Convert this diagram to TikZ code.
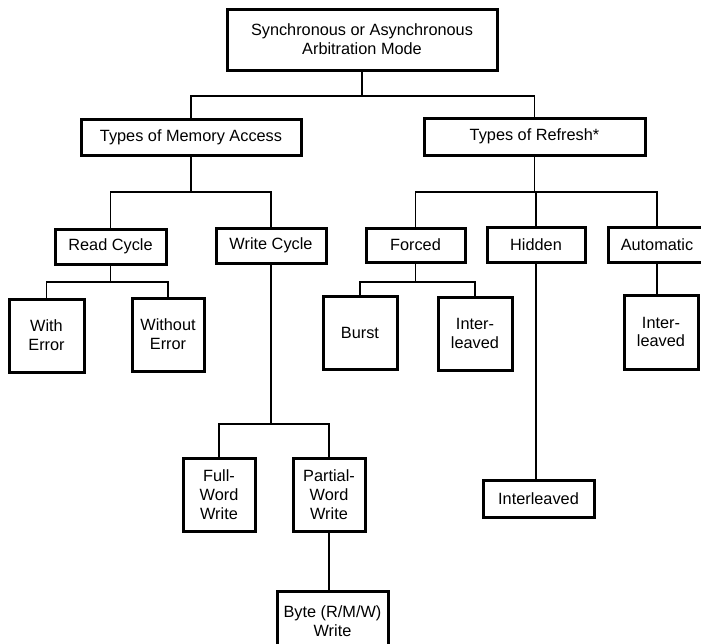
\documentclass[tikz,border=0pt]{standalone}
\usepackage{fontspec}
\setmainfont{Liberation Sans}

\begin{document}
\begin{tikzpicture}[
    x=1pt, y=-1pt,
    box/.style={draw=black, line width=3pt, inner sep=0pt, align=center,
        font=\fontsize{16.3}{18.8}\selectfont},
    sz/.style 2 args={minimum width=#1pt, minimum height=#2pt},
    link/.style={draw=black, line width=1.5pt}
]
    \useasboundingbox (0,0) rectangle (701,643);

    % --- Level 0: Mode ---
    \node[box, sz={270}{61}] (mode) at (362,39.5) {Synchronous or Asynchronous\\Arbitration Mode};

    % --- Level 1: Access and Refresh ---
    \node[box, sz={220}{36}] (mem) at (191,137) {Types of Memory Access};
    \node[box, sz={221}{37}] (ref) at (534.5,136.5) {Types of Refresh*};

    % --- Level 2: Cycles and Refresh Kinds ---
    \node[box, sz={111}{35}] (rd) at (110.5,246.5) {Read Cycle};
    \node[box, sz={110}{35}] (wr) at (271,245.5) {Write Cycle};
    \node[box, sz={99}{34}] (frc) at (415.5,245) {Forced};
    \node[box, sz={98}{35}] (hid) at (536,244.5) {Hidden};
    \node[box, sz={98}{35}] (aut) at (657,244.5) {Automatic};

    % --- Level 3 ---
    \node[box, sz={75}{73}] (werr) at (46.5,335.5) {With\\Error};
    \node[box, sz={72}{73}] (woerr) at (168,334.5) {Without\\Error};
    \node[box, sz={74}{73}] (bst) at (360,332.5) {Burst};
    \node[box, sz={74}{73}] (fint) at (475,333.5) {Inter-\\leaved};
    \node[box, sz={74}{74}] (aint) at (661,332) {Inter-\\leaved};

    % --- Level 4 and 5 ---
    \node[box, sz={72}{73}] (full) at (219,494.5) {Full-\\Word\\Write};
    \node[box, sz={72}{73}] (part) at (329,494.5) {Partial-\\Word\\Write};
    \node[box, sz={111}{37}] (hint) at (538.5,498.5) {Interleaved};
    \node[box, sz={111}{60}] (byte) at (332.5,621) {Byte (R/M/W)\\Write};

    % Bus connections
    \foreach \p/\b/\c in {mode/96/mem, mode/96/ref, mem/192/rd, mem/192/wr,
        ref/192/frc, ref/192/hid, ref/192/aut, rd/282/werr, rd/282/woerr,
        frc/282/bst, frc/282/fint, wr/424/full, wr/424/part} {
        \draw[link] (\p.south) -- (\p.south |- 0,\b) -| (\c.north);
    }

    % Straight drops
    \draw[link] (hid.south) -- (hid.south |- hint.north);
    \draw[link] (aut.south) -- (aut.south |- aint.north);
    \draw[link] (part.south) -- (part.south |- byte.north);
\end{tikzpicture}
\end{document}
